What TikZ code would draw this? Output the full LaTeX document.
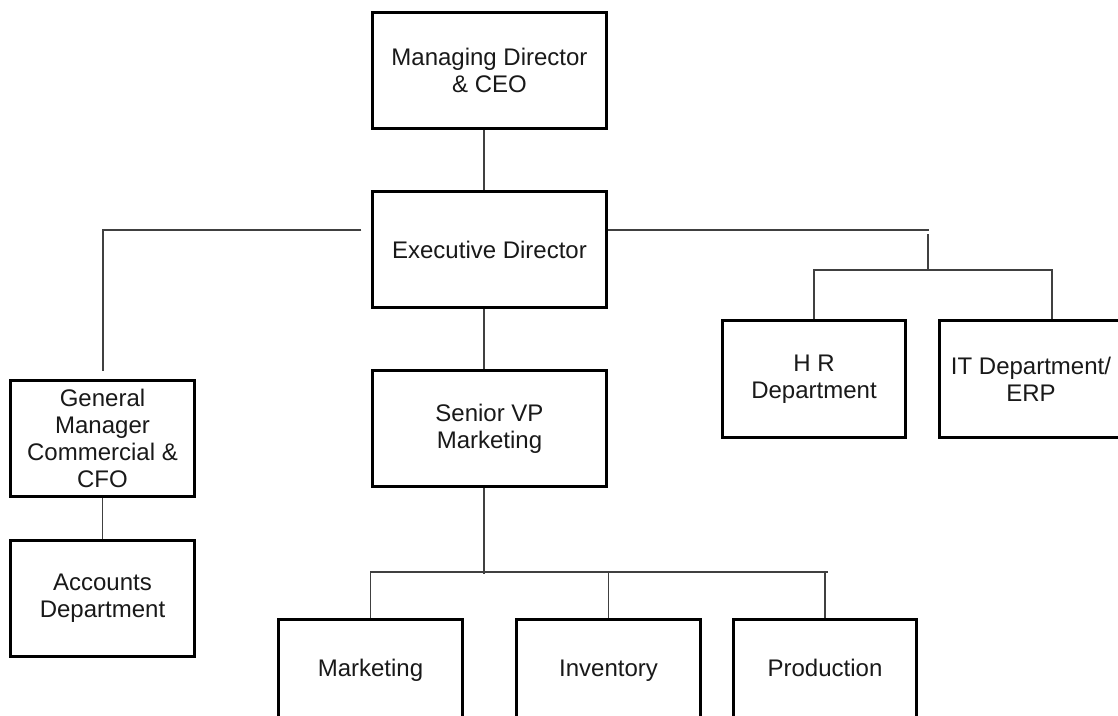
\documentclass[tikz,border=0pt]{standalone}
\usepackage{fontspec}
\setmainfont{Liberation Sans}
\usetikzlibrary{calc}
\begin{document}
\begin{tikzpicture}[x=1bp,y=-1bp,
  orgbox/.style={draw=black, line width=3.2bp, inner sep=0pt, align=center,
    font=\fontsize{24bp}{27bp}\selectfont, text=black!90},
  wide/.style={minimum width=233.8bp, minimum height=115.8bp},
  narrow/.style={minimum width=183.3bp, minimum height=116.3bp},
  low/.style={minimum width=183.3bp, minimum height=100.8bp, text height=17.5bp, text depth=5bp},
  conn/.style={draw=black!75, line width=1.2bp}]
\fill[white] (0,0) rectangle (1118,716);
\useasboundingbox (0,0) rectangle (1118,716);
\clip (0,0) rectangle (1118,716);

\node[orgbox, wide] (ceo) at (489.5,70.5) {Managing Director\\\& CEO};
\node[orgbox, wide] (ed) at (489.5,249.5) {Executive Director};
\node[orgbox, wide] (svp) at (489.5,428.5) {Senior VP\\Marketing};
\node[orgbox, narrow] (gm) at (102.5,438.5) {General\\Manager\\Commercial \&\\CFO};
\node[orgbox, narrow] (acc) at (102.5,598.5) {Accounts\\Department};
\node[orgbox, narrow] (hr) at (814,379) {H R\\Department};
\node[orgbox, narrow] (it) at (1031,379) {IT Department/\\ERP};
\node[orgbox, low] (mkt) at (370.5,670) {Marketing};
\node[orgbox, low] (inv) at (608.5,670) {Inventory};
\node[orgbox, low] (prod) at (825,670) {Production};

% CEO -> ED
\coordinate (c1) at ([xshift=-5.5bp]ceo.south);
\draw[conn] (c1) -- (c1 |- ed.north);

% ED -> GM (left branch)
\draw[conn] ($(ed.west)+(-9.6,-19.5)$) -| ($(gm.north)+(0.5,-7.6)$);
\draw[conn] (gm.south) -- (acc.north);

% ED -> HR / IT (right branch)
\coordinate (rt) at (929,230);
\coordinate (rb) at (928,270);
\draw[conn] ($(ed.east)+(0,-19.5)$) -- (rt);
\draw[conn] ($(rt)+(-1,4)$) -- (rb);
\draw[conn] (hr.north) |- (rb) -| ($(it.north)+(21,0)$);

% ED -> SVP
\coordinate (c2) at ([xshift=-5.5bp]ed.south);
\draw[conn] (c2) -- (c2 |- svp.north);

% SVP -> bottom row
\coordinate (bl) at (828,572);
\coordinate (c3) at ([xshift=-5.5bp]svp.south);
\draw[conn] (c3) -- ($(c3 |- bl)+(0,2)$);
\draw[conn] (mkt.north) |- (bl);
\draw[conn] (inv.north) -- (inv.north |- bl);
\draw[conn] (prod.north) -- (prod.north |- bl);
\end{tikzpicture}
\end{document}
